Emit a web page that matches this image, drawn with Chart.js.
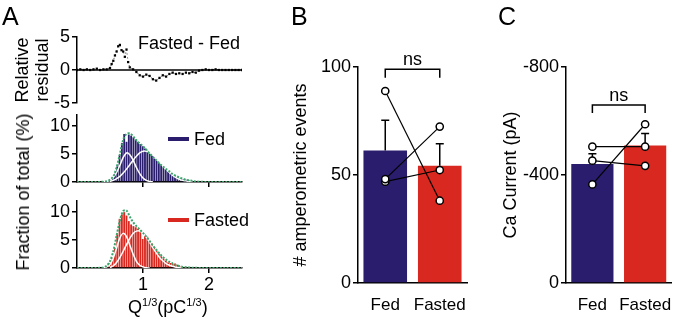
<!DOCTYPE html>
<html>
<head>
<meta charset="utf-8">
<script src="https://cdn.jsdelivr.net/npm/chart.js@4.4.1/dist/chart.umd.min.js"></script>
<style>
  body { margin: 0; background: #fff; }
  #wrap { position: relative; width: 677px; height: 319px; overflow: hidden;
          font-family: 'Liberation Sans', Arial, sans-serif; color: #000; }
  canvas { position: absolute; left: 0; top: 0; }
  .lbl { position: absolute; white-space: nowrap; line-height: 1; }
  .lbl sup { font-size: 11px; vertical-align: 7px; line-height: 0; }
</style>
</head>
<body>
<div id="wrap">
  <canvas id="resid" width="677" height="319"></canvas>
  <canvas id="fedHist" width="677" height="319"></canvas>
  <canvas id="fastedHist" width="677" height="319"></canvas>
  <canvas id="events" width="677" height="319"></canvas>
  <canvas id="caCurrent" width="677" height="319"></canvas>

  <div class="lbl" style="left:2px;top:4px;font-size:25px">A</div>
  <div class="lbl" style="left:291px;top:4px;font-size:25px">B</div>
  <div class="lbl" style="left:498px;top:4px;font-size:25px">C</div>
  <div class="lbl" style="left:138px;top:34px;font-size:18px">Fasted - Fed</div>
  <div class="lbl" style="left:23px;top:192px;font-size:18px;transform:translate(-50%,-50%) rotate(-90deg)">Fraction of total (%)</div>
  <div class="lbl" style="left:128px;top:298px;font-size:18px">Q<sup>1/3</sup>(pC<sup>1/3</sup>)</div>
</div>
<script>
const _ = null;

// ---- panel A: histograms (bin centre Q^1/3, % of events)
const binCenters = [0.400, 0.435, 0.470, 0.505, 0.540, 0.575, 0.610, 0.645, 0.680, 0.715,
  0.750, 0.785, 0.820, 0.855, 0.890, 0.925, 0.960, 0.995, 1.030, 1.065, 1.100, 1.135,
  1.170, 1.205, 1.240, 1.275, 1.310, 1.345, 1.380, 1.415, 1.450, 1.485, 1.520, 1.555,
  1.590, 1.625, 1.660, 1.695, 1.730, 1.765, 1.800];
const fedHist = [0.1, 0.1, 0.2, 0.4, 0.8, 1.5, 2.8, 4.8, 7.0, 8.6, 7.2, 8.5, 8.3, 8.0, 7.6,
  7.2, 6.8, 6.4, 6.0, 5.6, 5.1, 4.7, 4.2, 3.8, 3.4, 3.0, 2.6, 2.2, 1.9, 1.5, 1.2, 1.0, 0.8,
  0.6, 0.5, 0.5, 0.4, 0.3, 0.2, 0.1, 0.1];
const fastedHist = [0.1, 0.2, 0.4, 0.9, 1.8, 3.6, 6.0, 8.8, 9.6, 10.0, 9.4, 8.4, 7.8, 7.5,
  7.3, 7.0, 6.6, 5.2, 6.0, 5.6, 4.9, 4.4, 3.7, 3.1, 2.6, 2.1, 1.7, 1.3, 1.0, 0.9, 0.7, 0.8,
  0.6, 0.3, 0.2, 0.1, 0.1, 0.05, 0, 0, 0];

// fitted gaussians (white) and their sum (green)
const curveX = [0, 0.1, 0.2, 0.3, 0.35, 0.4, 0.45, 0.5, 0.55, 0.6, 0.65, 0.7, 0.75, 0.8,
  0.85, 0.9, 0.95, 1.0, 1.05, 1.1, 1.15, 1.2, 1.25, 1.3, 1.35, 1.4, 1.45, 1.5, 1.55, 1.6,
  1.65, 1.7, 1.75, 1.8, 1.9, 2.0, 2.25, 2.5];
const fedFit = [0, 0, 0, 0, 0.02, 0.05, 0.15, 0.4, 1.0, 2.6, 5.0, 7.6, 8.6, 8.7, 8.2, 7.5,
  6.9, 6.4, 5.8, 5.1, 4.5, 3.9, 3.3, 2.8, 2.3, 1.9, 1.4, 1.1, 0.8, 0.6, 0.4, 0.3, 0.2, 0.1,
  0.03, 0, 0, 0];
const fedFit1 = [_, _, _, _, _, 0, 0.1, 0.3, 0.8, 1.7, 3.0, 4.4, 5.2, 4.9, 3.9, 2.6, 1.5,
  0.7, 0.3, 0.1, 0, _, _, _, _, _, _, _, _, _, _, _, _, _, _, _, _, _];
const fedFit2 = [_, _, _, _, _, _, _, 0.1, 0.3, 0.6, 1.0, 1.6, 2.3, 3.1, 3.9, 4.6, 5.2,
  5.5, 5.5, 5.3, 4.9, 4.3, 3.6, 2.9, 2.3, 1.7, 1.2, 0.8, 0.5, 0.3, 0.2, 0.1, 0, _, _, _, _, _];
const fastedFit = [0, 0, 0, 0, 0.03, 0.1, 0.4, 1.2, 3.0, 5.8, 8.5, 10.2, 10.3, 9.2, 8.2,
  7.5, 6.9, 6.3, 5.6, 4.8, 4.0, 3.3, 2.6, 2.0, 1.5, 1.1, 0.8, 0.5, 0.35, 0.2, 0.15, 0.1,
  0.05, 0.03, 0.01, 0, 0, 0];
const fastedFit1 = [_, _, _, _, _, 0.05, 0.2, 0.6, 1.8, 3.6, 5.4, 6.2, 5.6, 4.1, 2.5, 1.2,
  0.5, 0.2, 0.05, 0, _, _, _, _, _, _, _, _, _, _, _, _, _, _, _, _, _, _];
const fastedFit2 = [_, _, _, _, _, _, _, 0.1, 0.4, 1.0, 1.9, 3.0, 4.2, 5.3, 6.2, 6.6, 6.6,
  6.2, 5.5, 4.6, 3.6, 2.7, 1.9, 1.3, 0.8, 0.5, 0.3, 0.15, 0.05, 0, _, _, _, _, _, _, _, _];

// relative residual, fasted - fed
const residX = [0, 0.05, 0.1, 0.15, 0.2, 0.25, 0.3, 0.35, 0.4, 0.45, 0.5,
  0.525, 0.55, 0.575, 0.6, 0.625, 0.65, 0.675, 0.7, 0.725, 0.75, 0.775, 0.8,
  0.85, 0.9, 0.95, 1.0, 1.05, 1.1, 1.15, 1.2, 1.25, 1.3, 1.35, 1.4, 1.45, 1.5, 1.55, 1.6,
  1.65, 1.7, 1.75, 1.8, 1.85, 1.9, 1.95, 2.0, 2.05, 2.1, 2.15, 2.2, 2.25, 2.3, 2.35, 2.4,
  2.45, 2.5];
const residY = [0, 0.1, 0, 0.1, 0, 0.1, 0.2, 0, 0.1, 0.1, 0.3,
  0.9, 1.4, 2.2, 2.8, 3.6, 3.8, 3.0, 2.8, 2.0, 3.1, 1.2, 0.4,
  0.1, -0.3, -0.8, -1.0, -0.7, -0.9, -1.4, -1.6, -1.2, -0.8, -1.0, -0.6, -0.4, -0.6, -0.5,
  -0.6, -0.4, -0.5, -0.3, -0.4, -0.1, 0, 0.1, 0, 0, 0.1, 0, 0, 0, 0, 0, 0, 0, 0];

// ---- panels B and C
const groups = ['Fed', 'Fasted'];
const eventsMean = [61.3, 54.3];
const eventsSem = [14, 10.2];
const eventsPairs = [[88.9, 38.1], [48.1, 72.4], [46.9, 52.3]];
const caMean = [-441, -509];
const caSem = [38, 45];
const caPairs = [[-505, -505], [-453, -434], [-365, -588]];

const FED = '#2a1d6e';
const FASTED = '#d8281f';
const GREEN = '#3aa46a';

Chart.defaults.font.family = "'Liberation Sans', Arial, sans-serif";
Chart.defaults.font.size = 18;
Chart.defaults.color = '#000';

function xy(xs, ys) {
  return xs.map((x, i) => ({ x: x, y: ys[i] }));
}

function fixW(w) { return s => { s.width = w; }; }
function fixH(h) { return s => { s.height = h; }; }

const axisBorder = { color: '#000', width: 1.5 };
const axisGrid = { drawOnChartArea: false, color: '#000', lineWidth: 1.5, tickLength: 5 };

function baseOptions(padding, scales, plugins) {
  return {
    responsive: false,
    animation: false,
    devicePixelRatio: 1,
    layout: { padding: padding },
    plugins: Object.assign({ legend: { display: false }, tooltip: { enabled: false } }, plugins || {}),
    scales: scales
  };
}

// error bar (upper whisker only) drawn right after the bars
const errorBars = {
  id: 'errorBars',
  afterDatasetDraw(chart, args, opts) {
    if (args.meta.type !== 'bar' || !opts.sem) return;
    const ctx = chart.ctx, y = chart.scales.y;
    const values = chart.data.datasets[args.index].data;
    ctx.save();
    ctx.strokeStyle = '#000';
    ctx.lineWidth = 1.5;
    args.meta.data.forEach((bar, i) => {
      const m = values[i];
      const top = y.getPixelForValue(m + Math.sign(m) * opts.sem[i]);
      ctx.beginPath();
      ctx.moveTo(bar.x, bar.y);
      ctx.lineTo(bar.x, top);
      ctx.moveTo(bar.x - 4, top);
      ctx.lineTo(bar.x + 4, top);
      ctx.stroke();
    });
    ctx.restore();
  }
};

// "ns" bracket between the two groups
const nsBracket = {
  id: 'nsBracket',
  afterDraw(chart, args, opts) {
    if (opts.level === undefined) return;
    const ctx = chart.ctx, x = chart.scales.x, y = chart.scales.y;
    const x0 = x.getPixelForValue(0), x1 = x.getPixelForValue(1);
    const yt = y.getPixelForValue(opts.level), yd = y.getPixelForValue(opts.drop);
    ctx.save();
    ctx.strokeStyle = '#000';
    ctx.lineWidth = 1.5;
    ctx.beginPath();
    ctx.moveTo(x0, yd);
    ctx.lineTo(x0, yt);
    ctx.lineTo(x1, yt);
    ctx.lineTo(x1, yd);
    ctx.stroke();
    ctx.fillStyle = '#000';
    ctx.font = "18px 'Liberation Sans', Arial, sans-serif";
    ctx.textAlign = 'center';
    ctx.fillText(opts.text, (x0 + x1) / 2, yt - 4);
    ctx.restore();
  }
};

// small legend next to each histogram
const sideLegend = {
  id: 'sideLegend',
  afterDraw(chart, args, opts) {
    if (opts.x === undefined) return;
    const ds = chart.data.datasets.find(d => !d.type);
    const ctx = chart.ctx;
    ctx.save();
    ctx.strokeStyle = ds.backgroundColor;
    ctx.lineWidth = 4;
    ctx.beginPath();
    ctx.moveTo(opts.x, opts.y);
    ctx.lineTo(opts.x + 21, opts.y);
    ctx.stroke();
    ctx.fillStyle = '#000';
    ctx.font = "18px 'Liberation Sans', Arial, sans-serif";
    ctx.textBaseline = 'middle';
    ctx.fillText(ds.label, opts.x + 26, opts.y + 1);
    ctx.restore();
  }
};

// ---- A: residual
new Chart('resid', {
  type: 'line',
  data: {
    datasets: [
      { data: xy(residX, residY), borderColor: '#000', borderWidth: 0.8, borderDash: [1, 3],
        pointStyle: 'rect', pointRadius: 1.6, pointBackgroundColor: '#000', pointBorderWidth: 0 },
      { data: [{ x: 0, y: 0 }, { x: 2.5, y: 0 }], borderColor: '#000', borderWidth: 1.5, pointRadius: 0 }
    ]
  },
  options: baseOptions({ left: 13, top: 37, right: 435, bottom: 216 }, {
    x: { type: 'linear', min: 0, max: 2.5, display: false },
    y: {
      min: -5, max: 5,
      ticks: { stepSize: 5, padding: 2 },
      border: axisBorder, grid: axisGrid,
      title: { display: true, text: ['Relative', 'residual'], padding: 0, font: { size: 18, lineHeight: 1.1 } },
      afterFit: fixW(64)
    }
  })
});

// ---- A: histograms
function histChart(id, hist, fit, fit1, fit2, color, label, pad, xh, showTicks, legendY) {
  return new Chart(id, {
    type: 'bar',
    data: {
      datasets: [
        { type: 'line', data: xy(curveX, fit), borderColor: GREEN, borderWidth: 2,
          borderDash: [2, 1.5], pointRadius: 0, tension: 0.3, order: 0 },
        { type: 'line', data: xy(curveX, fit1), borderColor: '#fff', borderWidth: 1.5,
          pointRadius: 0, tension: 0.3, order: 1 },
        { type: 'line', data: xy(curveX, fit2), borderColor: '#fff', borderWidth: 1.5,
          pointRadius: 0, tension: 0.3, order: 1 },
        { label: label, data: xy(binCenters, hist), backgroundColor: color,
          barPercentage: 1, categoryPercentage: 0.8, order: 2 }
      ]
    },
    options: baseOptions(pad, {
      x: {
        type: 'linear', min: 0, max: 2.5, offset: false,
        ticks: { stepSize: 1, includeBounds: false, display: showTicks, padding: 1,
                 callback: v => (v === 0 ? '' : v) },
        border: axisBorder,
        grid: Object.assign({}, axisGrid, { offset: false,
          tickColor: c => (c.tick && c.tick.value === 0 ? 'rgba(0,0,0,0)' : '#000') }),
        afterFit: fixH(xh)
      },
      y: {
        min: 0, max: 12,
        ticks: { stepSize: 5, includeBounds: false, padding: 2 },
        border: axisBorder, grid: axisGrid,
        afterFit: fixW(47)
      }
    }, { sideLegend: { x: 168, y: legendY } }),
    plugins: [sideLegend]
  });
}

histChart('fedHist', fedHist, fedFit, fedFit1, fedFit2, FED, 'Fed',
  { left: 30, top: 115, right: 435, bottom: 127 }, 10, false, 139);
histChart('fastedHist', fastedHist, fastedFit, fastedFit1, fastedFit2, FASTED, 'Fasted',
  { left: 30, top: 201, right: 435, bottom: 21 }, 30, true, 220);

// ---- B and C: bar + paired points
function pairedChart(id, mean, sem, pairs, pad, yw, yScale, title, bracket) {
  const lines = pairs.map(p => ({
    type: 'line', data: p, borderColor: '#000', borderWidth: 1.2,
    pointRadius: 3.6, pointBackgroundColor: '#fff', pointBorderColor: '#000',
    pointBorderWidth: 1.5, order: 0
  }));
  return new Chart(id, {
    type: 'bar',
    data: {
      labels: groups,
      datasets: [
        { data: mean, backgroundColor: [FED, FASTED], barPercentage: 0.8,
          categoryPercentage: 1, order: 1 }
      ].concat(lines)
    },
    options: baseOptions(pad, {
      x: {
        border: axisBorder,
        grid: { display: false },
        ticks: { padding: 4, font: { size: 17 }, autoSkip: false, maxRotation: 0, minRotation: 0 },
        afterFit: fixH(36)
      },
      y: Object.assign({
        border: axisBorder, grid: axisGrid,
        title: { display: true, text: title, padding: 0 },
        afterFit: fixW(yw)
      }, yScale)
    }, { errorBars: { sem: sem }, nsBracket: bracket }),
    plugins: [errorBars, nsBracket]
  });
}

pairedChart('events', eventsMean, eventsSem, eventsPairs,
  { left: 290, top: 67, right: 210, bottom: 0 }, 68,
  { min: 0, max: 100, ticks: { stepSize: 50, padding: 2 } },
  '# amperometric events', { level: 99, drop: 95, text: 'ns' });

pairedChart('caCurrent', caMean, caSem, caPairs,
  { left: 500, top: 67, right: 4, bottom: 0 }, 66,
  { min: -800, max: 0, reverse: true, ticks: { stepSize: 400, padding: 2 } },
  'Ca Current (pA)', { level: -659, drop: -630, text: 'ns' });
</script>
</body>
</html>
